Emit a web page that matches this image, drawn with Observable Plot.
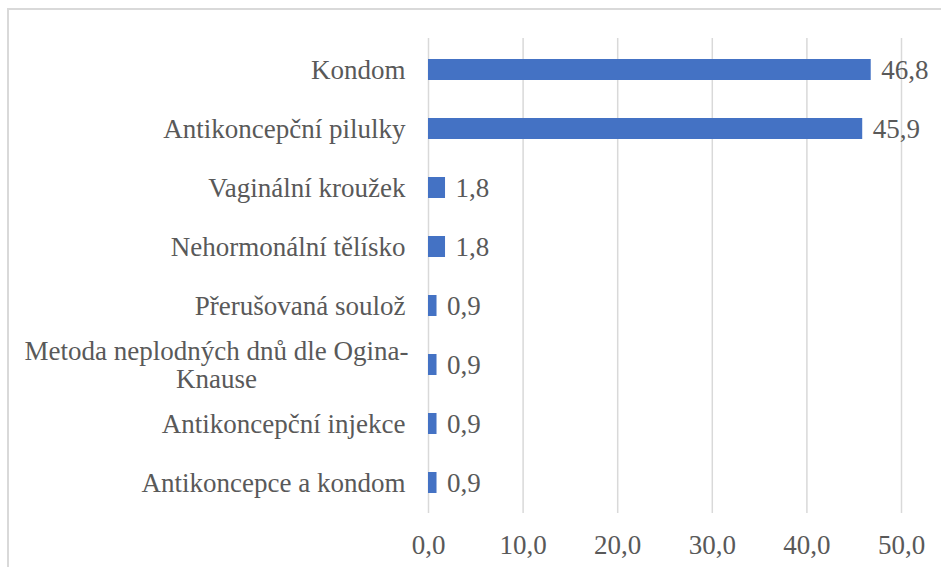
<!DOCTYPE html>
<html>
<head>
<meta charset="utf-8">
<script src="https://cdn.jsdelivr.net/npm/d3@7"></script>
<script src="https://cdn.jsdelivr.net/npm/@observablehq/plot@0.6"></script>
<style>
  html, body { margin: 0; padding: 0; background: #fff; overflow: hidden; }
  #wrap { position: relative; width: 941px; height: 567px; }
  #box { position: absolute; left: 7px; top: 8px; width: 960px; height: 600px; border: 2px solid #d9d9d9; box-sizing: border-box; }
  #chart { position: absolute; left: 0; top: 0; }
</style>
</head>
<body>
<div id="wrap"><div id="box"></div><div id="chart"></div></div>
<script>
const categories = [
  "Kondom",
  "Antikoncepční pilulky",
  "Vaginální kroužek",
  "Nehormonální tělísko",
  "Přerušovaná soulož",
  "Metoda neplodných dnů dle Ogina-Knause",
  "Antikoncepční injekce",
  "Antikoncepce a kondom"
];
const values = [46.8, 45.9, 1.8, 1.8, 0.9, 0.9, 0.9, 0.9];
const xTicks = [0, 10, 20, 30, 40, 50];
const longLabel = "Metoda neplodných dnů dle Ogina-Knause";
const longLabelLines = "Metoda neplodných dnů dle Ogina-\nKnause";

const data = categories.map((c, i) => ({category: c, value: values[i]}));
const fmt = v => v.toFixed(1).replace(".", ",");
const font = "Liberation Serif";
const fs = 27;

const chart = Plot.plot({
  width: 941,
  height: 567,
  marginLeft: 428,
  marginRight: 40,
  marginTop: 38,
  marginBottom: 54,
  style: "font-family: 'Liberation Serif', serif; font-size: 27px; color: #595959; background: transparent;",
  x: {domain: [0, 50], ticks: xTicks},
  y: {domain: categories, paddingInner: 0.65, paddingOuter: 0.325, axis: null},
  marks: [
    Plot.gridX(xTicks, {stroke: "#d9d9d9", strokeOpacity: 1, strokeWidth: 1.5}),
    Plot.axisX(xTicks, {tickSize: 0, tickPadding: 21, tickFormat: fmt, fill: "#595959", fontSize: fs, fontFamily: font, label: null}),
    Plot.barX(data, {y: "category", x: "value", fill: "#4472c4"}),
    Plot.text(data, {y: "category", x: "value", text: d => fmt(d.value), textAnchor: "start", dx: 10, fill: "#595959", fontSize: fs, fontFamily: font}),
    Plot.text(data.filter(d => d.category !== longLabel), {y: "category", frameAnchor: "left", dx: -23, textAnchor: "end", text: "category", fill: "#595959", fontSize: fs, fontFamily: font}),
    Plot.text(data.filter(d => d.category === longLabel), {y: "category", frameAnchor: "left", dx: -212, textAnchor: "middle", text: () => longLabelLines, lineHeight: 1.05, fill: "#595959", fontSize: fs, fontFamily: font})
  ]
});
document.getElementById("chart").appendChild(chart);
</script>
</body>
</html>
